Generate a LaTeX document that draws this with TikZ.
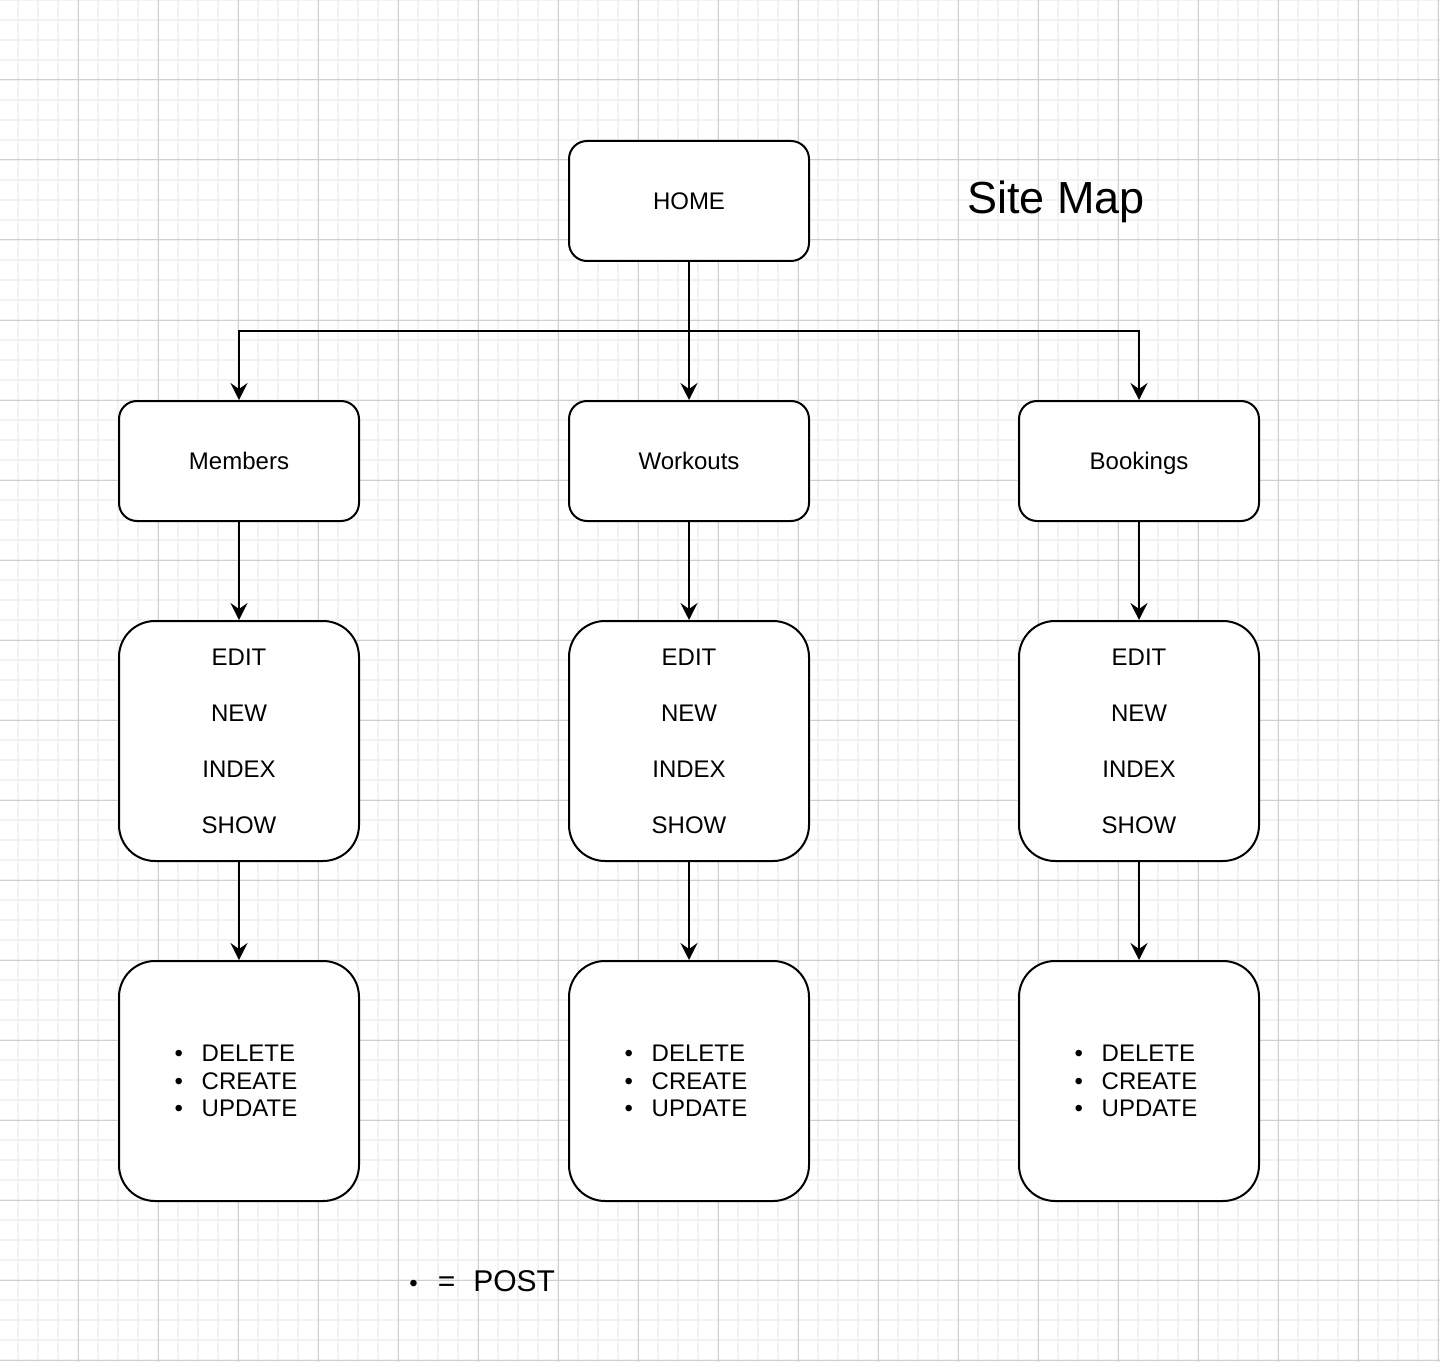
\documentclass[tikz,border=0pt]{standalone}
\usepackage{fontspec}
\setmainfont{Liberation Sans}
\usetikzlibrary{arrows.meta}
\definecolor{minorgrid}{HTML}{F2F2F2}
\definecolor{majorgrid}{HTML}{CFCFCF}
\tikzset{
  pagebox/.style={draw=black, line width=1pt, fill=white, rounded corners=9pt,
    minimum width=120pt, minimum height=60pt, inner sep=0pt, align=center,
    text height=8.6pt, text depth=0pt,
    font=\fontsize{12}{14}\selectfont},
  listbox/.style={draw=black, line width=1pt, fill=white, rounded corners=18pt,
    minimum width=120pt, minimum height=120pt, inner sep=0pt, align=center,
    font=\fontsize{12}{28}\selectfont},
  postbox/.style={draw=black, line width=1pt, fill=white, rounded corners=18pt,
    minimum width=120pt, minimum height=120pt, inner sep=0pt, align=left,
    font=\fontsize{12}{13.75}\selectfont},
  arr/.style={line width=1pt, -{Stealth[length=8.5pt,width=8.5pt,inset=3pt]}},
  plain/.style={inner sep=0pt, anchor=base west}
}
\newcommand{\bul}[1]{\makebox[13.5pt][l]{\textbullet}#1\hspace*{3pt}}
\begin{document}
\begin{tikzpicture}[x=0.5pt,y=-0.5pt]
\useasboundingbox (0,0) rectangle (1440,1364);
\fill[white] (0,0) rectangle (1440,1364);
% grid
\foreach \i in {0,...,72} {
  \draw[minorgrid, line width=0.8pt] ({-2+20*\i},0) -- ({-2+20*\i},1362);
}
\foreach \j in {0,...,68} {
  \draw[minorgrid, line width=0.8pt] (0,{20*\j}) -- (1440,{20*\j});
}
\foreach \i in {0,...,18} {
  \draw[majorgrid, line width=0.5pt] ({-2+80*\i},0) -- ({-2+80*\i},1362);
}
\foreach \j in {0,...,17} {
  \draw[majorgrid, line width=0.5pt] (0,{80*\j}) -- (1440,{80*\j});
}
% nodes
\node[pagebox] (home) at (689,201) {HOME};
\node[pagebox] (members) at (239,461) {Members};
\node[pagebox] (workouts) at (689,461) {Workouts};
\node[pagebox] (bookings) at (1139,461) {Bookings};
\node[listbox] (mget) at (239,741) {EDIT\\NEW\\INDEX\\SHOW};
\node[listbox] (wget) at (689,741) {EDIT\\NEW\\INDEX\\SHOW};
\node[listbox] (bget) at (1139,741) {EDIT\\NEW\\INDEX\\SHOW};
\node[postbox] (mpost) at (239,1081) {\bul{DELETE}\\\bul{CREATE}\\\bul{UPDATE}};
\node[postbox] (wpost) at (689,1081) {\bul{DELETE}\\\bul{CREATE}\\\bul{UPDATE}};
\node[postbox] (bpost) at (1139,1081) {\bul{DELETE}\\\bul{CREATE}\\\bul{UPDATE}};
\node[plain, font=\fontsize{22.5}{26}\selectfont] (title) at (967,214) {Site Map};
\node[plain, font=\fontsize{15}{18}\selectfont] (legend) at (409,1291)
  {{\fontsize{12}{14}\selectfont\textbullet}\hspace{10pt}=\hspace{9pt}POST};
% connectors
\coordinate (split) at (689,331);
\draw[arr] (home.south) -- (workouts.north);
\draw[arr] (split) -| (members.north);
\draw[arr] (split) -| (bookings.north);
\draw[arr] (members.south) -- (mget.north);
\draw[arr] (workouts.south) -- (wget.north);
\draw[arr] (bookings.south) -- (bget.north);
\draw[arr] (mget.south) -- (mpost.north);
\draw[arr] (wget.south) -- (wpost.north);
\draw[arr] (bget.south) -- (bpost.north);
\end{tikzpicture}
\end{document}
